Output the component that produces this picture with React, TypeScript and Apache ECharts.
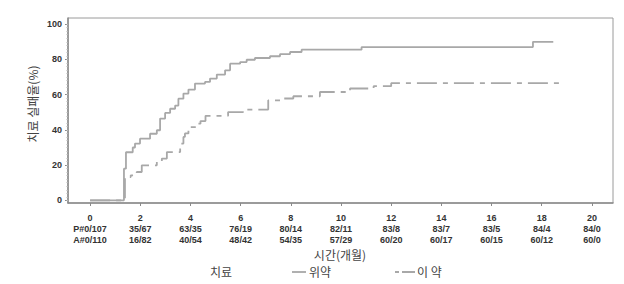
import React, { useEffect, useRef } from "react";
import * as echarts from "echarts";

const months = [0, 2, 4, 6, 8, 10, 12, 14, 16, 18, 20];
const placeboAtRisk = ["P#0/107", "35/67", "63/35", "76/19", "80/14", "82/11", "83/8", "83/7", "83/5", "84/4", "84/0"];
const drugAtRisk = ["A#0/110", "16/82", "40/54", "48/42", "54/35", "57/29", "60/20", "60/17", "60/15", "60/12", "60/0"];
const yTicks = [0, 20, 40, 60, 80, 100];

// 위약 (placebo) cumulative failure, step curve
const placeboTime = [0, 1.35, 1.43, 1.7, 1.79, 1.99, 2.39, 2.66, 2.79, 2.99, 3.19, 3.39, 3.52, 3.72, 3.92, 4.18, 4.58, 4.78, 5.05, 5.38, 5.58, 5.98, 6.24, 6.57, 7.17, 7.57, 7.97, 8.43, 10.82, 17.65, 18.46];
const placeboFail = [0, 18, 27.3, 30, 32.2, 35, 37.8, 39.8, 46.4, 49.6, 52, 53.8, 57.7, 60.6, 62.9, 66.3, 67.2, 69.1, 71.4, 73.8, 77.6, 78.5, 79.8, 80.8, 81.8, 83, 84.2, 85.5, 87, 90, 90];

// 이 약 (drug) cumulative failure, step curve
const drugTime = [0, 1.39, 1.62, 1.86, 2.06, 2.66, 2.86, 3.06, 3.59, 3.72, 3.78, 3.92, 4.25, 4.4, 4.6, 5.5, 6.1, 7.1, 7.7, 8.1, 9.16, 10.36, 11.3, 12.0, 18.72];
const drugFail = [0, 13.2, 14.2, 16.1, 19.9, 21.8, 23.7, 27.4, 32.2, 36, 38, 41.6, 43.5, 45, 48, 50.1, 51.5, 56.8, 57.8, 59.1, 61.5, 63.5, 64.8, 66.5, 66.5];

const minorTicks: number[] = [];
for (let v = 0; v <= 100; v += 2) minorTicks.push(v);

const LATIN = "'Liberation Sans', Arial, sans-serif";
const KR = "'Noto Sans CJK KR', 'Noto Sans', sans-serif";

export default function App() {
  const ref = useRef<HTMLDivElement>(null);
  useEffect(() => {
    const chart = echarts.init(ref.current as HTMLDivElement, null, { renderer: "svg" });
    const placeboData = placeboTime.map((t, i) => [t, placeboFail[i]]);
    const drugData = drugTime.map((t, i) => [t, drugFail[i]]);
    const lineColor = "#a8a8a8";
    const dashPattern = [20, 6, 5, 6];
    const krText = (text: string, x: number, y: number, align: string, extra: any = {}) => ({
      type: "text",
      x,
      y,
      ...extra,
      style: {
        text,
        fontSize: 12,
        fontFamily: KR,
        fill: "#444",
        align,
        verticalAlign: "middle",
      },
    });
    chart.setOption({
      animation: false,
      backgroundColor: "#ffffff",
      grid: {
        left: 68,
        top: 18,
        width: 545,
        height: 185,
        show: true,
        borderColor: "#9a9a9a",
        borderWidth: 1,
        backgroundColor: "transparent",
        containLabel: false,
      },
      xAxis: {
        type: "value",
        min: -0.88,
        max: 20.84,
        axisLine: { show: true, onZero: false, lineStyle: { color: "#8a8a8a", width: 1.5 } },
        axisTick: { show: true, customValues: months, length: 3, lineStyle: { color: "#8a8a8a" } },
        splitLine: { show: false },
        axisLabel: {
          customValues: months,
          margin: 9,
          fontSize: 9,
          fontWeight: "bold",
          color: "#333",
          lineHeight: 11,
          fontFamily: LATIN,
          formatter: (v: number) => {
            const i = months.indexOf(Math.round(v));
            if (i < 0) return "";
            return `${months[i]}\n${placeboAtRisk[i]}\n${drugAtRisk[i]}`;
          },
        },
      },
      yAxis: [
        {
          type: "value",
          min: -1.5,
          max: 103.5,
          axisLine: { show: true, onZero: false, lineStyle: { color: "#8a8a8a", width: 1.5 } },
          axisTick: { show: true, customValues: yTicks, length: 3, lineStyle: { color: "#8a8a8a" } },
          splitLine: { show: false },
          axisLabel: {
            customValues: yTicks,
            margin: 6,
            fontSize: 9,
            fontWeight: "bold",
            color: "#333",
            fontFamily: LATIN,
          },
        },
        {
          type: "value",
          position: "left",
          min: -1.5,
          max: 103.5,
          axisLine: { show: false, onZero: false },
          axisTick: { show: true, customValues: minorTicks, length: 1.5, lineStyle: { color: "#b5b5b5" } },
          axisLabel: { show: false },
          splitLine: { show: false },
        },
      ],
      graphic: [
        krText("치료 실패율(%)", 32, 104, "center", { rotation: Math.PI / 2 }),
        krText("시간(개월)", 340, 254.5, "center"),
        krText("치료", 221, 271, "center"),
        {
          type: "line",
          shape: { x1: 292, y1: 272, x2: 306, y2: 272 },
          style: { stroke: lineColor, lineWidth: 1.8 },
        },
        krText("위약", 309, 271, "left"),
        {
          type: "line",
          shape: { x1: 395, y1: 272, x2: 415, y2: 272 },
          style: { stroke: lineColor, lineWidth: 1.8, lineDash: [4, 3, 13, 0] },
        },
        krText("이 약", 417, 271, "left"),
      ],
      series: [
        {
          name: "위약",
          type: "line",
          step: "end",
          symbol: "none",
          data: placeboData,
          lineStyle: { color: lineColor, width: 1.8 },
          itemStyle: { color: lineColor },
        },
        {
          name: "이 약",
          type: "line",
          step: "end",
          symbol: "none",
          data: drugData,
          lineStyle: { color: lineColor, width: 1.8, type: dashPattern },
          itemStyle: { color: lineColor },
        },
      ],
    });
    return () => chart.dispose();
  }, []);
  return (
    <div
      ref={ref}
      style={{ position: "absolute", left: 0, top: 0, width: 624, height: 284, background: "#fff" }}
    />
  );
}
